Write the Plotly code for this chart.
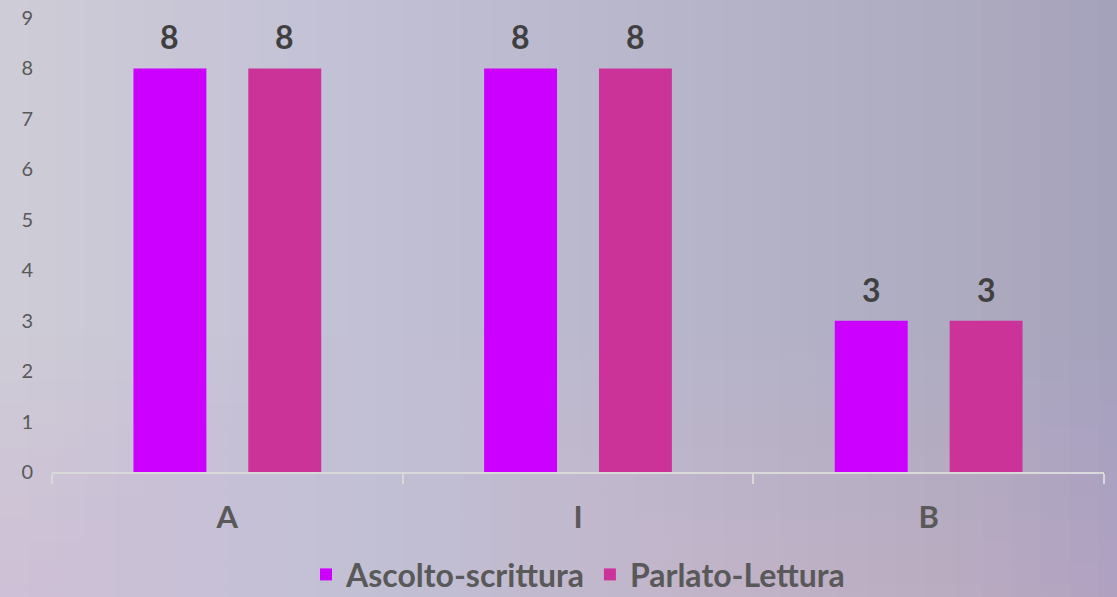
import plotly.graph_objects as go

# categorie e valori
categorie = ["A", "I", "B"]
ascolto_scrittura = [8, 8, 3]
parlato_lettura = [8, 8, 3]
y_ticks = list(range(0, 10))

W, H = 1117, 597
M = dict(l=52, r=13, t=18, b=125, autoexpand=False)
BARGAP, GROUPGAP = 0.345, 0.365

fig = go.Figure()
fig.add_trace(
    go.Bar(x=categorie,
           y=ascolto_scrittura,
           name="Ascolto-scrittura",
           marker=dict(color="#cc00ff", line=dict(width=0))))
fig.add_trace(
    go.Bar(x=categorie,
           y=parlato_lettura,
           name="Parlato-Lettura",
           marker=dict(color="#cc3399", line=dict(width=0))))

# etichette dei valori sopra le barre
cat_w = (W - M["l"] - M["r"]) / len(categorie)
slot = cat_w * (1 - BARGAP) / 2
annotations = []
for serie, shift in [(ascolto_scrittura, -slot / 2), (parlato_lettura, slot / 2)]:
    for c, v in zip(categorie, serie):
        annotations.append(
            dict(x=c, y=v, xref="x", yref="y", text=str(v), showarrow=False,
                 xshift=shift, yshift=10, yanchor="bottom",
                 font=dict(family="Lato", size=32, color="#404040",
                           weight="bold")))

# sfondo: gradiente approssimato con rettangoli sovrapposti
shapes = []
n = 40
for i in range(n):
    shapes.append(
        dict(type="rect", xref="paper", yref="paper", layer="below",
             x0=-0.2, x1=-0.05 + (i + 1) * 1.1 / n,
             y0=-0.5, y1=1.2, line=dict(width=0),
             fillcolor="rgba(235,240,250,0.022)"))
# leggera tinta rosata in basso
for i in range(12):
    shapes.append(
        dict(type="rect", xref="paper", yref="paper", layer="below",
             x0=-0.2, x1=1.2, y0=-0.5, y1=-0.3 + (i + 1) * 0.05,
             line=dict(width=0), fillcolor="rgba(215,180,225,0.03)"))

fig.update_layout(
    width=W,
    height=H,
    margin=M,
    paper_bgcolor="#a09db9",
    plot_bgcolor="rgba(0,0,0,0)",
    barmode="group",
    bargap=BARGAP,
    bargroupgap=GROUPGAP,
    shapes=shapes,
    annotations=annotations,
    font=dict(family="Lato", color="#595959"),
    showlegend=True,
    legend=dict(orientation="h", x=0.5, xanchor="center", y=-0.226,
                yanchor="middle", bgcolor="rgba(0,0,0,0)",
                font=dict(size=32, color="#595959", weight="bold"),
                itemwidth=30, tracegroupgap=0),
    xaxis=dict(showline=True, linecolor="#d9d9d9", linewidth=2,
               ticks="outside", tickson="boundaries", ticklen=10,
               tickcolor="#d9d9d9", tickwidth=2, showgrid=False,
               automargin=False, ticklabelstandoff=17,
               tickfont=dict(size=31, color="#595959", weight="bold")),
    yaxis=dict(range=[0, 9], tickvals=y_ticks, showgrid=False,
               showline=False, zeroline=False, ticks="",
               automargin=False, ticklabelstandoff=18,
               tickfont=dict(size=20, color="#595959")),
)

fig.write_html("out.html",
               config={"displayModeBar": False},
               post_script="document.body.style.margin='0';"
               "document.body.style.background='#a09db9';")
